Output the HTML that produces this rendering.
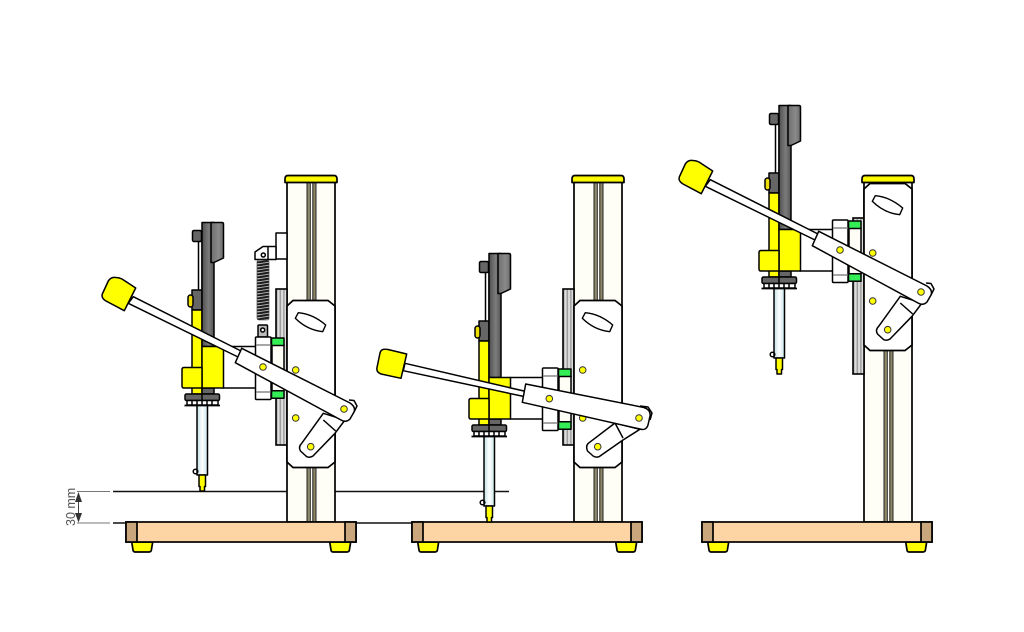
<!DOCTYPE html>
<html>
<head>
<meta charset="utf-8">
<style>
html,body{margin:0;padding:0;background:#fff;}
svg{display:block;}
</style>
</head>
<body>
<svg width="1024" height="632" viewBox="0 0 1024 632" xmlns="http://www.w3.org/2000/svg">
<defs>
<linearGradient id="bar" x1="0" x2="1" y1="0" y2="0"><stop offset="0" stop-color="#4f4f4f"/><stop offset=".55" stop-color="#7c7c7c"/><stop offset="1" stop-color="#555"/></linearGradient>
<linearGradient id="head" x1="0" x2="1" y1="0" y2="0"><stop offset="0" stop-color="#6e6e6e"/><stop offset=".6" stop-color="#8a8a8a"/><stop offset="1" stop-color="#6a6a6a"/></linearGradient>
<linearGradient id="shaft" x1="0" x2="1" y1="0" y2="0"><stop offset="0" stop-color="#bfe0e6"/><stop offset=".5" stop-color="#fff"/><stop offset="1" stop-color="#c8e6ec"/></linearGradient>
<linearGradient id="capg" x1="0" x2="0" y1="0" y2="1"><stop offset="0" stop-color="#e0d800"/><stop offset=".4" stop-color="#ffff00"/><stop offset="1" stop-color="#f4f000"/></linearGradient>
<pattern id="railp" width="3.600" height="10" patternUnits="userSpaceOnUse" x="276"><rect width="3.600" height="10" fill="#dcdcdc"/><rect width="1.400" height="10" fill="#9a9a9a"/></pattern>
<pattern id="spr" width="12" height="3" patternUnits="userSpaceOnUse" y="260" x="257"><rect width="12" height="3" fill="#aaa"/><path d="M0,2.600L12,.6" stroke="#1c1c1c" stroke-width="2" fill="none"/></pattern>

<g id="col" stroke="#000" stroke-width="1.700">
  <rect x="287" y="180" width="48" height="342" fill="#fffef6"/>
  <rect x="307" y="182" width="2.800" height="340" fill="#8f8868" stroke="none"/>
  <rect x="313" y="182" width="3" height="340" fill="#8f8868" stroke="none"/>
  <path d="M307,182V522M310.300,182V522M312.800,182V522M316,182V522" fill="none" stroke="#222" stroke-width="1"/>
  <path d="M288,175.500Q285,175.500 285,179V182.500H337V179Q337,175.500 334,175.500Z" fill="url(#capg)" stroke-linejoin="round"/>
</g>

<g id="base" stroke="#000" stroke-width="1.700">
  <path d="M131.700,542L133,550Q133.300,552 135,552H149Q151,552 151.400,550L152.700,542Z" fill="#ffff00"/>
  <path d="M329.700,542L331,550Q331.300,552 333,552H347Q349,552 349.400,550L350.700,542Z" fill="#ffff00"/>
  <rect x="126" y="522" width="230" height="20" fill="#fdd5a5"/>
  <rect x="126" y="522" width="11" height="20" fill="#c9a67c"/>
  <rect x="345" y="522" width="11" height="20" fill="#c9a67c"/>
</g>

<g id="rail">
  <rect x="276" y="289" width="11" height="156" fill="url(#railp)" stroke="#000" stroke-width="1.600"/>
</g>

<g id="plate">
  <path d="M287,306L293,300.500H328L335,306V462L328,467.500H293L287,462Z" fill="#fff" stroke="#000" stroke-width="1.700"/>
  <path d="M298.300,312.700Q313,314 325.700,325L322.700,331.700Q307,330 295.300,318.300Z" fill="#fff" stroke="#000" stroke-width="1.400" stroke-linejoin="round"/>
  <circle cx="295.700" cy="370" r="3.300" fill="#ffff00" stroke="#333" stroke-width="1"/>
  <circle cx="295.700" cy="418" r="3.300" fill="#ffff00" stroke="#333" stroke-width="1"/>
</g>

<g id="tool" stroke="#000" stroke-width="1.500" stroke-linejoin="round">
  <rect x="223" y="346.500" width="33" height="41.500" fill="#fff"/>
  <rect x="198.500" y="241" width="3.500" height="50" fill="#fff"/>
  <rect x="192.500" y="230.500" width="9" height="11" rx="1.500" fill="#666"/>
  <rect x="192" y="290" width="10" height="20" fill="#666"/>
  <rect x="192" y="310" width="10" height="84" fill="#ffff00"/>
  <rect x="188" y="295" width="5" height="12" rx="2.500" fill="#eedd00"/>
  <rect x="202" y="222.500" width="12" height="124" fill="url(#bar)"/>
  <path d="M211,222.500H222Q223.500,222.500 223.500,224V258L214,262.500H211Z" fill="url(#head)"/>
  <rect x="202" y="388" width="12" height="6" fill="#666"/>
  <rect x="202" y="346.500" width="21.500" height="41.500" fill="#ffff00"/>
  <path d="M184,367.500H202V388H184Q182,388 182,386V369.500Q182,367.500 184,367.500Z" fill="#ffff00"/>
  <rect x="197" y="405" width="10.500" height="70" fill="url(#shaft)"/>
  <circle cx="195.500" cy="471.500" r="2.300" fill="none"/>
  <path d="M199,475H205.500V486.500H204.500V491H200V486.500H199Z" fill="#ffff00"/>
  <rect x="185" y="394" width="34.500" height="6.500" rx="1.500" fill="#666"/>
  <rect x="187" y="400.500" width="31" height="4.500" fill="#fff"/>
  <path d="M192,400.500V405M197,400.500V405M202,400.500V405M207,400.500V405M212,400.500V405M202,394V400.500" fill="none"/>
  <path d="M184.500,405.500H220" fill="none" stroke-width="1.700"/>
  <rect x="272" y="345" width="12" height="46" fill="#fffef6"/>
  <rect x="255.500" y="337" width="15.500" height="62.500" rx="1" fill="#fff"/>
  <path d="M256,345H271M256,392H271" fill="none" stroke="#888"/>
  <rect x="271.500" y="338" width="12.500" height="7.500" fill="#33ee55"/>
  <rect x="271.500" y="390.700" width="12.500" height="7.500" fill="#33ee55"/>
</g>

<g id="lever1" stroke="#000" stroke-width="1.500" stroke-linejoin="round">
  <path d="M133.300,296.700L243,352L238,357L128.300,303.300Z" fill="#fff"/>
  <path d="M116,277.500Q119,277.500 122,279L135.700,288L124.300,310.700L106,301Q101,298 102.300,294L108.300,281Q111,276.500 116,277.500Z" fill="#ffff00"/>
  <path d="M349,400L354,400.500L357,406L354,412" fill="#fff"/>
  <path d="M241.700,348.300L350,403Q356,407 354,412L350,419Q346,423 341,420L235.300,362.700Z" fill="#fff"/>
  <circle cx="263" cy="367" r="3.300" fill="#ffff00" stroke="#333" stroke-width="1"/>
  <circle cx="344" cy="409" r="3.300" fill="#ffff00" stroke="#333" stroke-width="1"/>
</g>

<g id="link1" stroke="#000" stroke-width="1.500" stroke-linejoin="round">
  <path d="M301.700,443.300L323.300,413.300L345,420L335,433.300L313,456Q310,458 306.700,456.700L300.500,451Q298,447 301.700,443.300Z" fill="#fff"/>
  <path d="M323.300,420L335.700,431" fill="none"/>
  <circle cx="310.700" cy="446.700" r="3.300" fill="#ffff00" stroke="#333" stroke-width="1"/>
</g>
</defs>

<!-- reference lines -->
<path d="M113,491.500H509M113,523H412" stroke="#111" stroke-width="1.500" fill="none"/>
<path d="M77,491.500H110M77,523H110" stroke="#777" stroke-width="1" fill="none"/>
<path d="M78.500,498V516" stroke="#444" stroke-width="1" fill="none"/>
<path d="M78.500,492L75,502H82Z M78.500,522.500L75,513H82Z" fill="#333"/>
<text transform="translate(75,526) rotate(-90)" font-family="Liberation Sans, sans-serif" font-size="12.500" fill="#555">30 mm</text>

<!-- Stand 1 -->
<use href="#col"/>
<use href="#base"/>
<use href="#rail"/>
<g stroke="#000" stroke-width="1.500" stroke-linejoin="round">
  <rect x="276" y="233" width="11" height="26" fill="#fff"/>
  <path d="M255,252L263,246.500H276V259.500H255Z" fill="#fff"/>
  <path d="M268,246.500V259.500" fill="none"/>
  <circle cx="263.300" cy="255" r="2" fill="#fff"/>
  <rect x="257" y="260" width="12" height="60" rx="2" fill="url(#spr)" stroke="#333" stroke-width=".6"/>
  <rect x="258" y="325" width="9.500" height="12" rx="1" fill="#bbb"/>
  <circle cx="262.700" cy="330" r="2" fill="#fff"/>
</g>
<use href="#plate"/>
<use href="#tool"/>
<use href="#link1"/>
<use href="#lever1"/>

<!-- Stand 2 -->
<use href="#col" x="287"/>
<use href="#base" x="286"/>
<use href="#rail" x="287"/>
<use href="#plate" x="287"/>
<use href="#tool" x="287" y="31"/>
<g stroke="#000" stroke-width="1.500" stroke-linejoin="round">
  <path d="M588.300,443.300L615,423L640,429.300L623,440L599,456.700Q595,458 592,455L587.500,451Q585.500,446 588.300,443.300Z" fill="#fff"/>
  <path d="M615,423L623,438" fill="none"/>
  <circle cx="597.700" cy="446.700" r="3.300" fill="#ffff00" stroke="#333" stroke-width="1"/>
  <path d="M405,363.300L526,391.500L524,396.500L403.300,370.700Z" fill="#fff"/>
  <path d="M384,349.300Q385,349 388,349.500L406.700,354L401,378.300L381,374Q376,372 377,367.500L380,353Q381,349.500 384,349.300Z" fill="#ffff00"/>
  <path d="M640,406L648,407L652,413L650,420" fill="#fff"/>
  <path d="M525.700,384L644,407.500Q651,410 650,416L648,425Q646,431 640,429L522.300,402.300Z" fill="#fff"/>
  <circle cx="549.300" cy="398.700" r="3.300" fill="#ffff00" stroke="#333" stroke-width="1"/>
  <circle cx="639" cy="418" r="3.300" fill="#ffff00" stroke="#333" stroke-width="1"/>
</g>

<!-- Stand 3 -->
<use href="#col" x="577"/>
<use href="#base" x="576"/>
<use href="#rail" x="577" y="-71"/>
<use href="#plate" x="577" y="-117"/>
<use href="#tool" x="577" y="-117"/>
<use href="#link1" x="577" y="-117"/>
<use href="#lever1" x="577" y="-117"/>
</svg>
</body>
</html>
